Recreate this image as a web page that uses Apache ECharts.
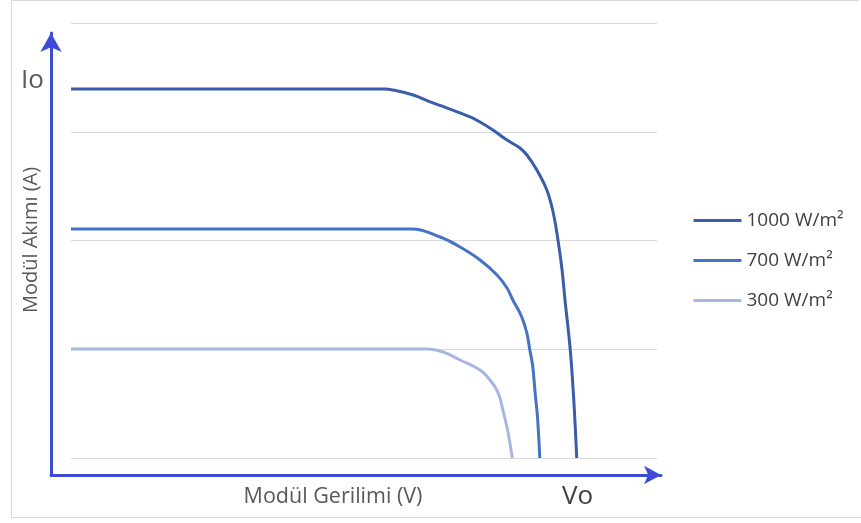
<!DOCTYPE html>
<html>
<head>
<meta charset="utf-8">
<script src="https://cdn.jsdelivr.net/npm/echarts@6/dist/echarts.min.js"></script>
<style>html,body{margin:0;padding:0;background:#fff;}#c{width:861px;height:523px;}</style>
</head>
<body>
<div id="c"></div>
<script>
// Series names
const seriesNames = ['1000 W/m²', '700 W/m²', '300 W/m²'];
// Voltage (relative units 0-100) and current (A, relative units 0-4)
const v1000 = [0, 53.6, 54.9, 58.4, 61.3, 64.2, 68.1, 69.8, 72.0, 74.4, 76.6, 77.8, 79.5, 81.2, 82.3, 83.1, 83.8, 84.3, 85.2, 85.8, 86.3];
const i1000 = [3.393, 3.393, 3.384, 3.338, 3.274, 3.218, 3.136, 3.090, 3.016, 2.924, 2.851, 2.786, 2.648, 2.464, 2.253, 2.005, 1.729, 1.453, 0.993, 0.533, 0];
const v700 = [0, 58.2, 63.0, 66.4, 69.8, 72.7, 74.4, 75.4, 76.9, 77.8, 78.3, 78.8, 79.2, 79.6, 80.0];
const i700 = [2.106, 2.106, 2.032, 1.940, 1.821, 1.683, 1.563, 1.453, 1.299, 1.147, 0.993, 0.840, 0.598, 0.380, 0];
const v300 = [0, 60.75, 63.5, 66.4, 69.8, 71.5, 72.9, 73.7, 74.6, 75.3];
const i300 = [1.002, 1.002, 0.975, 0.901, 0.809, 0.717, 0.598, 0.441, 0.230, 0];
// Axis labels
const yName = 'Modül Akımı (A)';
const xName = 'Modül Gerilimi (V)';
const yMark = 'Io';
const xMark = 'Vo';

const zip = (a, b) => a.map((x, k) => [x, b[k]]);
const colors = ['#3A5DA8', '#4472C4', '#A7B7E0'];
const FONT = 'Open Sans';

const chart = echarts.init(document.getElementById('c'), null, {renderer: 'canvas'});
chart.setOption({
  animation: false,
  backgroundColor: '#fff',
  grid: [
    {left: 71, top: 23, width: 586, height: 435},
    {left: 51, top: 33, width: 610, height: 442}
  ],
  xAxis: [
    {gridIndex: 0, type: 'value', min: 0, max: 100, show: false},
    {gridIndex: 1, type: 'value', min: 0, max: 1, axisLabel: {show: false}, axisTick: {show: false}, splitLine: {show: false},
     axisLine: {show: true, symbol: ['none', 'arrow'], symbolSize: [14, 17], lineStyle: {color: '#3D4BD6', width: 3}}}
  ],
  yAxis: [
    {gridIndex: 0, type: 'value', min: 0, max: 4, interval: 1, axisLine: {show: false}, axisLabel: {show: false}, axisTick: {show: false},
     splitLine: {show: true, lineStyle: {color: '#D9D9D9', width: 1}}},
    {gridIndex: 1, type: 'value', min: 0, max: 1, axisLabel: {show: false}, axisTick: {show: false}, splitLine: {show: false},
     axisLine: {show: true, symbol: ['none', 'arrow'], symbolSize: [16, 19], lineStyle: {color: '#3D4BD6', width: 3}}}
  ],
  legend: {
    orient: 'vertical', left: 687, top: 206, itemWidth: 48, itemHeight: 14, itemGap: 21,
    data: seriesNames,
    itemStyle: {opacity: 0},
    lineStyle: {width: 3},
    textStyle: {fontFamily: FONT, fontSize: 19, color: '#404040'}
  },
  series: [
    {name: seriesNames[0], type: 'line', data: zip(v1000, i1000), symbol: 'none', smooth: 0.4,
     lineStyle: {color: colors[0], width: 3}, itemStyle: {color: colors[0]}},
    {name: seriesNames[1], type: 'line', data: zip(v700, i700), symbol: 'none', smooth: 0.4,
     lineStyle: {color: colors[1], width: 3}, itemStyle: {color: colors[1]}},
    {name: seriesNames[2], type: 'line', data: zip(v300, i300), symbol: 'none', smooth: 0.4,
     lineStyle: {color: colors[2], width: 3}, itemStyle: {color: colors[2]}}
  ],
  graphic: [
    {type: 'polyline', shape: {points: [[859, 0.5], [11.5, 0.5], [11.5, 517.5], [861, 517.5]]}, style: {stroke: '#D9D9D9', fill: null, lineWidth: 1}, silent: true},
    {type: 'text', left: 21, top: 68, style: {text: yMark, fontFamily: FONT, fontSize: 26, fill: '#595959'}},
    {type: 'text', left: 562, top: 484, style: {text: xMark, fontFamily: FONT, fontSize: 26, fill: '#404040'}},
    {type: 'text', x: 333, y: 497, style: {text: xName, fontFamily: FONT, fontSize: 21.5, fill: '#595959', align: 'center', verticalAlign: 'middle'}},
    {type: 'text', x: 31, y: 240, rotation: Math.PI / 2, style: {text: yName, fontFamily: FONT, fontSize: 20, fill: '#595959', align: 'center', verticalAlign: 'middle'}}
  ]
});
</script>
</body>
</html>
